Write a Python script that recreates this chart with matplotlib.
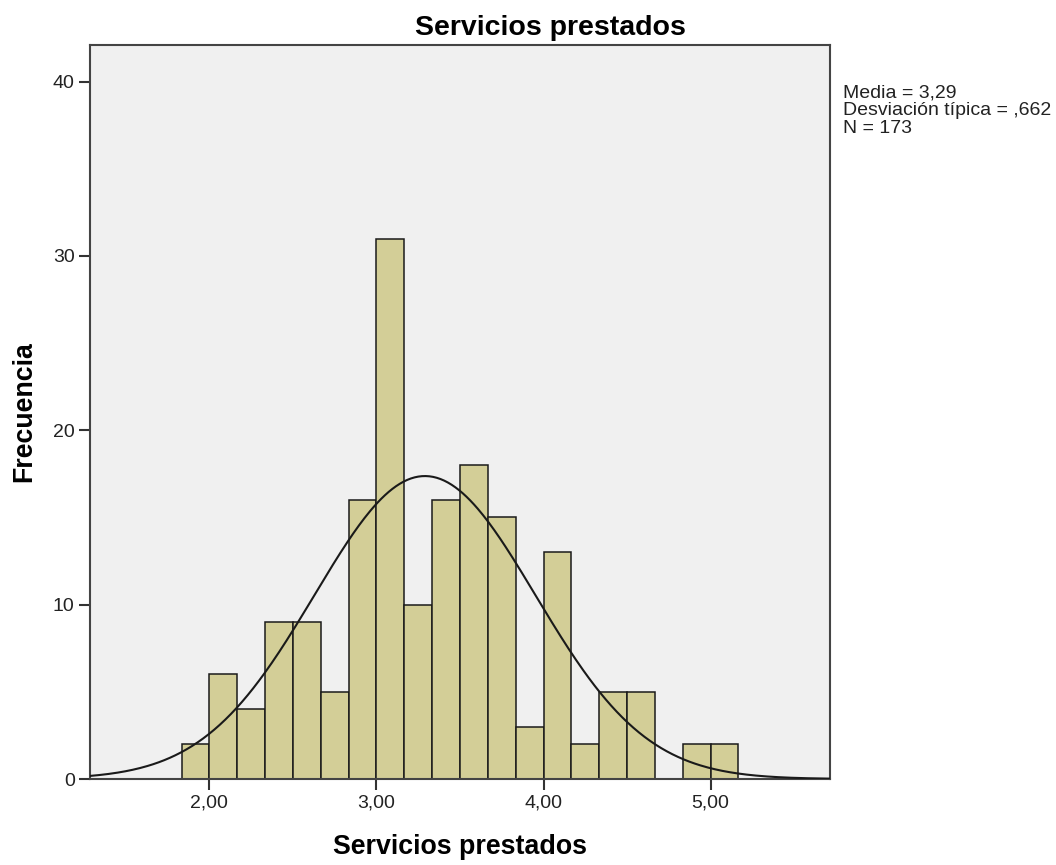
import numpy as np
import matplotlib
matplotlib.use("Agg")
import matplotlib.pyplot as plt

plt.rcParams['font.family'] = ['Liberation Sans', 'DejaVu Sans']

# histogram data (bins of 1/6 starting at 1.8333)
bin_start = 1.8333
bin_width = 1 / 6
counts = [2, 6, 4, 9, 9, 5, 16, 31, 10, 16, 18, 15, 3, 13, 2, 5, 5, 0, 2, 2]
mean = 3.29
std = 0.662
n = 173
x_ticks = [2, 3, 4, 5]
x_tick_labels = ["2,00", "3,00", "4,00", "5,00"]
y_ticks = [0, 10, 20, 30, 40]

edges = bin_start + bin_width * np.arange(len(counts) + 1)

fig = plt.figure(figsize=(10.56, 8.65), dpi=100)
ax = fig.add_axes([90 / 1056, 86 / 865, 740 / 1056, 734 / 865])
ax.set_facecolor("#F0F0F0")

ax.bar(edges[:-1], counts, width=bin_width, align='edge',
       color="#D3CE97", edgecolor="#1a1a1a", linewidth=1.1, zorder=2)

xmin, xmax = 1.285, 5.715
xs = np.linspace(xmin, xmax, 400)
ys = n * bin_width / (std * np.sqrt(2 * np.pi)) * np.exp(-0.5 * ((xs - mean) / std) ** 2)
ax.plot(xs, ys, color="#1a1a1a", linewidth=1.5, zorder=3)

ax.set_xlim(xmin, xmax)
ax.set_ylim(0, 42.1)
ax.set_xticks(x_ticks)
ax.set_xticklabels(x_tick_labels)
ax.set_yticks(y_ticks)
ax.tick_params(axis='both', labelsize=14, length=8, width=1.5, color="#333333",
               labelcolor="#222222", pad=3)
for s in ax.spines.values():
    s.set_linewidth(1.5)
    s.set_color("#444444")

fig.text(550 / 1056, 1 - 35 / 865, "Servicios prestados", fontsize=20.5,
         fontweight='bold', ha='center', va='baseline')
ax.set_xlabel("Servicios prestados", fontsize=19.3, fontweight='bold', labelpad=16)
ax.set_ylabel("Frecuencia", fontsize=19.3, fontweight='bold', labelpad=11)

fig.text(843 / 1056, 1 - 84 / 865,
         "Media = 3,29\nDesviación típica = ,662\nN = 173",
         fontsize=14, va='top', ha='left', linespacing=1.08, color="#222222")

fig.savefig("out.png", dpi=100)
